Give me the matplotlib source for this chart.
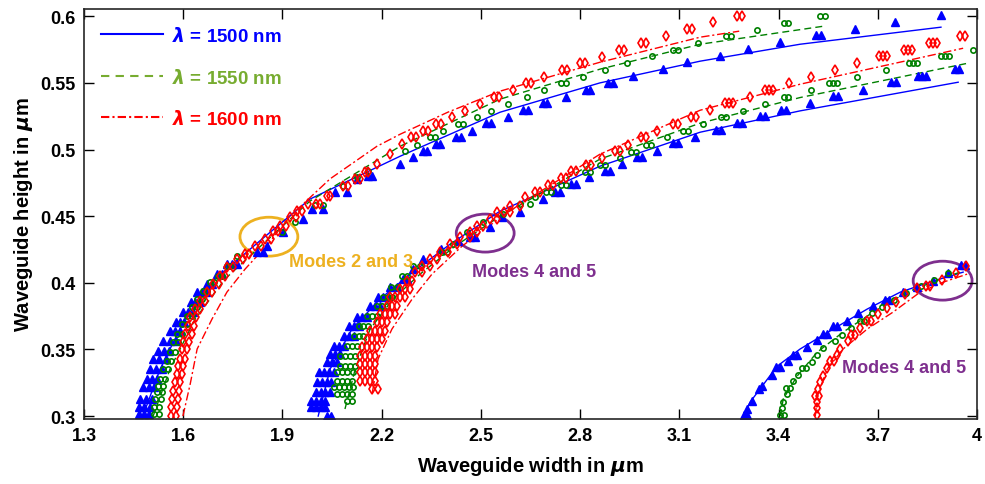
import matplotlib
matplotlib.use("Agg")
import matplotlib.pyplot as plt
from matplotlib.patches import Ellipse
from matplotlib.lines import Line2D

plt.rcParams["font.family"] = ["Liberation Sans", "DejaVu Sans"]
plt.rcParams["font.weight"] = "bold"

# ---- marker data: (height, [widths]) rows, in um ----
blue_a = [
    (0.3015, [1.465, 1.480, 1.497]), (0.3068, [1.465, 1.482, 1.500]),
    (0.3128, [1.470, 1.487, 1.505]), (0.3218, [1.478, 1.495, 1.512]),
    (0.3278, [1.490, 1.505, 1.520]), (0.3353, [1.500, 1.518, 1.535]),
    (0.3428, [1.510, 1.528, 1.547]), (0.3488, [1.525, 1.542, 1.558]),
    (0.3563, [1.540, 1.560, 1.578]), (0.3638, [1.560, 1.575, 1.590]),
    (0.3705, [1.577, 1.590, 1.603]), (0.378, [1.600, 1.615, 1.628]),
    (0.3855, [1.622, 1.636, 1.650]), (0.393, [1.643, 1.657, 1.670]),
    (0.399, [1.672, 1.686]), (0.4065, [1.703, 1.718]),
    (0.414, [1.733, 1.748, 1.762]), (0.423, [1.823, 1.841]),
    (0.4275, [1.853]), (0.438, [1.902]), (0.448, [1.962]),
    (0.4553, [1.989, 2.023]), (0.468, [2.059, 2.095]), (0.4778, [2.126]),
    (0.48, [2.159, 2.171]), (0.489, [2.256]), (0.4943, [2.295]),
    (0.4988, [2.324, 2.338]), (0.504, [2.363, 2.377]), (0.5093, [2.425, 2.440]),
    (0.5138, [2.473]), (0.5198, [2.515, 2.530]), (0.5243, [2.582]),
    (0.5295, [2.627, 2.642]), (0.5348, [2.687, 2.701]), (0.5393, [2.757]),
    (0.5445, [2.817, 2.831]), (0.5498, [2.884, 2.898]), (0.555, [2.960]),
    (0.5603, [3.051]), (0.5655, [3.123]), (0.570, [3.223]), (0.5753, [3.308]),
    (0.5805, [3.405]), (0.5858, [3.513, 3.527]), (0.5903, [3.631]),
    (0.5955, [3.752]), (0.6008, [3.891]),
]
green_a = [
    (0.3015, [1.512, 1.527]), (0.3068, [1.512, 1.527]), (0.3128, [1.516, 1.532]),
    (0.318, [1.520, 1.536]), (0.3225, [1.523, 1.539]), (0.3278, [1.530, 1.545]),
    (0.3353, [1.539, 1.554]), (0.341, [1.551, 1.563]), (0.348, [1.560, 1.575]),
    (0.3555, [1.570, 1.585]), (0.3615, [1.582, 1.597]), (0.369, [1.597, 1.610]),
    (0.375, [1.612, 1.625]), (0.3818, [1.627, 1.642]), (0.3878, [1.642, 1.657]),
    (0.3938, [1.660, 1.672]), (0.4005, [1.681, 1.694]), (0.405, [1.705, 1.718]),
    (0.4125, [1.733, 1.742]), (0.42, [1.763]), (0.438, [1.899]), (0.4455, [1.938]),
    (0.4583, [1.999, 2.023]), (0.4725, [2.083]), (0.4793, [2.126]), (0.4838, [2.159]),
    (0.4988, [2.271]), (0.5033, [2.307]), (0.5093, [2.345, 2.360]), (0.5138, [2.386]),
    (0.519, [2.430, 2.445]), (0.5243, [2.488]), (0.5288, [2.531]), (0.534, [2.582]),
    (0.5393, [2.640]), (0.5445, [2.691]), (0.5498, [2.742, 2.757]), (0.5543, [2.809]),
    (0.5595, [2.876]), (0.5648, [2.942]), (0.570, [3.018]), (0.5745, [3.080, 3.095]),
    (0.5798, [3.157]), (0.585, [3.240, 3.255]), (0.5895, [3.335]),
    (0.5948, [3.415, 3.430]), (0.600, [3.525, 3.540]),
]
red_a = [
    (0.300, [1.563, 1.578]), (0.3068, [1.563, 1.580]), (0.3128, [1.567, 1.583]),
    (0.3188, [1.570, 1.586]), (0.3255, [1.575, 1.590]), (0.3315, [1.580, 1.596]),
    (0.3375, [1.585, 1.600]), (0.3428, [1.590, 1.605]), (0.3503, [1.596, 1.612]),
    (0.3555, [1.600, 1.617]), (0.3615, [1.606, 1.625]), (0.3675, [1.615, 1.632]),
    (0.3743, [1.621, 1.640]), (0.3803, [1.636, 1.652]), (0.3863, [1.651, 1.667]),
    (0.393, [1.672, 1.688]), (0.399, [1.690, 1.708]), (0.405, [1.711, 1.727]),
    (0.4118, [1.733, 1.750]), (0.4178, [1.763, 1.780]), (0.4215, [1.787, 1.800]),
    (0.4275, [1.817, 1.835]), (0.4328, [1.847, 1.865]), (0.4388, [1.872, 1.887]),
    (0.4425, [1.893, 1.910]), (0.4493, [1.923, 1.940]), (0.4538, [1.944, 1.960]),
    (0.4595, [1.977, 2.000, 2.014]), (0.465, [2.035, 2.044]), (0.4725, [2.083, 2.098]),
    (0.4778, [2.119, 2.135]), (0.483, [2.150, 2.159]), (0.489, [2.186]),
    (0.4965, [2.225]), (0.504, [2.262]), (0.5093, [2.288, 2.303]),
    (0.5138, [2.324, 2.339]), (0.519, [2.363, 2.378]), (0.5243, [2.413]),
    (0.5288, [2.452]), (0.534, [2.498]), (0.5393, [2.541, 2.556]), (0.5445, [2.597]),
    (0.5498, [2.635, 2.650]), (0.5543, [2.691]), (0.5595, [2.745, 2.760]),
    (0.5648, [2.799, 2.814]), (0.5693, [2.866]), (0.5745, [2.919, 2.934]),
    (0.5798, [2.983, 2.998]), (0.585, [3.060]), (0.5903, [3.122, 3.137]),
    (0.5955, [3.202]), (0.600, [3.273, 3.288]),
]
blue_b = [
    (0.300, [2.035, 2.048]), (0.3068, [1.985, 2.000, 2.015, 2.030]),
    (0.3113, [1.985, 2.000, 2.015, 2.030]), (0.318, [2.000, 2.015, 2.030, 2.043]),
    (0.3255, [2.005, 2.020, 2.035, 2.048]), (0.333, [2.010, 2.025, 2.040, 2.055]),
    (0.3405, [2.035, 2.050, 2.065]), (0.3465, [2.045, 2.060, 2.075]),
    (0.3525, [2.055, 2.070, 2.085]), (0.360, [2.085, 2.100, 2.115]),
    (0.3675, [2.100, 2.115, 2.130]), (0.3743, [2.126, 2.141, 2.155]),
    (0.3825, [2.165, 2.180, 2.195]), (0.3893, [2.190, 2.205, 2.220]),
    (0.3968, [2.225, 2.245]), (0.4028, [2.265, 2.277]), (0.4103, [2.295]),
    (0.4178, [2.325]), (0.4253, [2.380]), (0.4313, [2.430]), (0.4345, [2.467, 2.482]),
    (0.4418, [2.528]), (0.4493, [2.565]), (0.453, [2.618]), (0.4628, [2.688]),
    (0.468, [2.723, 2.738]), (0.474, [2.772, 2.787]), (0.4793, [2.827]),
    (0.4838, [2.875, 2.890]), (0.489, [2.927]), (0.4943, [2.971, 2.986]),
    (0.4988, [3.033]), (0.5048, [3.080, 3.095]), (0.5093, [3.148]),
    (0.5145, [3.210, 3.225]), (0.5198, [3.273, 3.288]), (0.525, [3.343, 3.358]),
    (0.5295, [3.406, 3.421]), (0.5348, [3.495]), (0.540, [3.564, 3.579]),
    (0.5445, [3.656]), (0.5505, [3.739, 3.754]), (0.555, [3.822, 3.834, 3.846]),
    (0.5603, [3.932, 3.947]),
]
green_b = [
    (0.3113, [2.095, 2.110]), (0.3165, [2.065, 2.080, 2.095, 2.110]),
    (0.3218, [2.055, 2.070, 2.085, 2.100, 2.113]), (0.3263, [2.065, 2.080, 2.095, 2.110]),
    (0.333, [2.065, 2.080, 2.095, 2.112]), (0.3375, [2.075, 2.090, 2.105, 2.118]),
    (0.345, [2.075, 2.090, 2.105, 2.120]), (0.3525, [2.095, 2.110, 2.125]),
    (0.360, [2.115, 2.130, 2.145]), (0.3675, [2.130, 2.145, 2.160]),
    (0.375, [2.157, 2.172, 2.187]), (0.3825, [2.186, 2.201, 2.216]),
    (0.3893, [2.205, 2.220, 2.232]), (0.3968, [2.227, 2.245]), (0.405, [2.262, 2.278]),
    (0.4125, [2.295, 2.315]), (0.423, [2.383, 2.398]), (0.429, [2.416]),
    (0.438, [2.458]), (0.4455, [2.507]), (0.4515, [2.567]), (0.459, [2.618, 2.649]),
    (0.4643, [2.664]), (0.468, [2.696, 2.711]), (0.4733, [2.742, 2.757]),
    (0.483, [2.814, 2.829]), (0.4883, [2.859, 2.874]), (0.4935, [2.921]),
    (0.498, [2.953, 2.968]), (0.5033, [2.999, 3.014]), (0.5093, [3.063]),
    (0.5138, [3.110, 3.125]), (0.519, [3.172]), (0.5243, [3.225, 3.240]),
    (0.5288, [3.293]), (0.534, [3.359]), (0.5393, [3.415, 3.430]), (0.5445, [3.498]),
    (0.5498, [3.553, 3.565, 3.577]), (0.5543, [3.638]), (0.5595, [3.725]),
    (0.5648, [3.795, 3.807, 3.819]), (0.570, [3.892, 3.904, 3.916]), (0.5745, [3.988]),
]
red_b = [
    (0.3203, [2.171, 2.189]), (0.3263, [2.135, 2.150, 2.165, 2.180]),
    (0.333, [2.135, 2.150, 2.165, 2.180]), (0.339, [2.135, 2.150, 2.165, 2.180]),
    (0.345, [2.135, 2.150, 2.165, 2.180]), (0.3518, [2.141, 2.156, 2.171, 2.186]),
    (0.3578, [2.156, 2.171, 2.186, 2.200]), (0.3638, [2.165, 2.180, 2.195, 2.210]),
    (0.3705, [2.186, 2.201, 2.216]), (0.3765, [2.195, 2.210, 2.225, 2.240]),
    (0.3825, [2.216, 2.231, 2.246]), (0.3893, [2.225, 2.240, 2.255, 2.270]),
    (0.3953, [2.256, 2.271, 2.286]), (0.4013, [2.277, 2.292]), (0.408, [2.301, 2.322]),
    (0.4125, [2.322, 2.346]), (0.4178, [2.346, 2.367]), (0.423, [2.377, 2.401]),
    (0.429, [2.407, 2.428]), (0.4343, [2.437, 2.467]), (0.438, [2.467, 2.488]),
    (0.4425, [2.488, 2.507]), (0.4478, [2.528, 2.549]), (0.453, [2.549, 2.570, 2.588]),
    (0.4575, [2.588, 2.618]), (0.4643, [2.634]), (0.468, [2.663, 2.678]),
    (0.4733, [2.702, 2.717]), (0.4785, [2.742, 2.757]), (0.4838, [2.772, 2.787]),
    (0.4883, [2.817, 2.832]), (0.4935, [2.866]), (0.4988, [2.905, 2.920]),
    (0.5033, [2.945]), (0.5093, [2.983, 2.998]), (0.5138, [3.033]),
    (0.519, [3.080, 3.095]), (0.5243, [3.135, 3.150]), (0.5295, [3.193]),
    (0.5348, [3.238, 3.250, 3.262]), (0.5393, [3.314]), (0.5445, [3.359, 3.371, 3.383]),
    (0.5498, [3.432]), (0.5543, [3.498]), (0.5595, [3.571]), (0.5648, [3.638]),
    (0.570, [3.704, 3.716, 3.728]), (0.5745, [3.780, 3.792, 3.804]),
    (0.5798, [3.855, 3.867, 3.879]), (0.585, [3.950, 3.965]),
]
blue_c = [
    (0.3008, [3.296, 3.305]), (0.3053, [3.305]), (0.3113, [3.320]), (0.3203, [3.341]),
    (0.3225, [3.350]), (0.3308, [3.380]), (0.3368, [3.393, 3.405]), (0.3413, [3.429]),
    (0.3458, [3.444, 3.456]), (0.3518, [3.486]), (0.357, [3.517]),
    (0.3615, [3.535, 3.547]), (0.3675, [3.565, 3.577]), (0.3713, [3.607]),
    (0.3773, [3.641]), (0.3825, [3.686]), (0.387, [3.722, 3.734]), (0.393, [3.777]),
    (0.3968, [3.819]), (0.4013, [3.867]), (0.4073, [3.913]), (0.4133, [3.952, 3.964]),
]
green_c = [
    (0.3008, [3.405, 3.417]), (0.306, [3.411]), (0.3105, [3.414]), (0.3165, [3.426]),
    (0.321, [3.423, 3.435]), (0.3263, [3.444]), (0.3308, [3.459]), (0.336, [3.471, 3.483]),
    (0.3405, [3.501]), (0.3458, [3.517]), (0.351, [3.535]), (0.3563, [3.571]),
    (0.3608, [3.592]), (0.366, [3.619]), (0.3713, [3.647, 3.659]), (0.3773, [3.683]),
    (0.3818, [3.713]), (0.387, [3.749]), (0.3923, [3.786]), (0.3975, [3.831]),
    (0.402, [3.870]), (0.4073, [3.913]),
]
red_c = [
    (0.3008, [3.517]), (0.306, [3.517]), (0.3105, [3.517]), (0.315, [3.511, 3.523]),
    (0.3203, [3.520]), (0.3255, [3.526]), (0.330, [3.535]), (0.336, [3.547]),
    (0.3413, [3.556, 3.568]), (0.3458, [3.577]), (0.3503, [3.586]), (0.3563, [3.610]),
    (0.3608, [3.619, 3.631]), (0.366, [3.647]), (0.3713, [3.668, 3.680]),
    (0.3765, [3.701]), (0.381, [3.728]), (0.3855, [3.756]), (0.3915, [3.783]),
    (0.396, [3.819]), (0.3975, [3.846, 3.858]), (0.402, [3.895]), (0.4073, [3.937]),
    (0.4125, [3.967]),
]

# ---- fitted curves ----
fit_blue_a_x = [1.478, 1.530, 1.605, 1.696, 1.838, 1.983, 2.256, 2.558, 2.860, 3.163, 3.465, 3.891]
fit_blue_a_y = [0.300, 0.3353, 0.3728, 0.4028, 0.4328, 0.4628, 0.495, 0.528, 0.550, 0.5663, 0.579, 0.5918]
fit_green_a_x = [1.509, 1.560, 1.636, 1.726, 1.847, 1.983, 2.256, 2.558, 2.860, 3.163, 3.535]
fit_green_a_y = [0.300, 0.3353, 0.3728, 0.4028, 0.4305, 0.4613, 0.5025, 0.5378, 0.5603, 0.579, 0.5925]
fit_red_a_x = [1.599, 1.621, 1.642, 1.687, 1.732, 1.787, 1.856, 1.923, 2.044, 2.186, 2.256, 2.400, 2.558, 2.860, 3.163, 3.281]
fit_red_a_y = [0.300, 0.324, 0.3503, 0.3728, 0.393, 0.4103, 0.429, 0.450, 0.478, 0.5025, 0.5115, 0.528, 0.5438, 0.5655, 0.5843, 0.5888]

fit_blue_b_x = [2.008, 2.044, 2.110, 2.195, 2.286, 2.407, 2.558, 2.640, 2.860, 3.163, 3.465, 3.943]
fit_blue_b_y = [0.300, 0.3353, 0.3653, 0.3878, 0.4065, 0.429, 0.4538, 0.4628, 0.4875, 0.513, 0.529, 0.5505]
fit_green_b_x = [2.089, 2.120, 2.165, 2.234, 2.316, 2.422, 2.558, 2.634, 2.860, 3.163, 3.465, 3.973]
fit_green_b_y = [0.3053, 0.3353, 0.3653, 0.3878, 0.4065, 0.4275, 0.450, 0.4605, 0.4928, 0.5198, 0.539, 0.5648]
fit_red_b_x = [2.171, 2.189, 2.231, 2.292, 2.352, 2.443, 2.573, 2.628, 2.860, 3.163, 3.465, 3.958]
fit_red_b_y = [0.3165, 0.3428, 0.3653, 0.3878, 0.4065, 0.4275, 0.4515, 0.4605, 0.4965, 0.5295, 0.549, 0.576]

fit_blue_c_x = [3.293, 3.314, 3.396, 3.465, 3.565, 3.668, 3.768, 3.867, 3.958]
fit_blue_c_y = [0.300, 0.3105, 0.3375, 0.3503, 0.3653, 0.3803, 0.393, 0.4013, 0.408]
fit_green_c_x = [3.405, 3.414, 3.456, 3.517, 3.595, 3.686, 3.789, 3.889, 3.958]
fit_green_c_y = [0.300, 0.3128, 0.330, 0.348, 0.363, 0.378, 0.393, 0.4028, 0.4088]
fit_red_c_x = [3.511, 3.517, 3.547, 3.595, 3.668, 3.746, 3.828, 3.898, 3.970]
fit_red_c_y = [0.300, 0.315, 0.3353, 0.3503, 0.3653, 0.378, 0.393, 0.4005, 0.4065]

x_ticks = [1.3, 1.6, 1.9, 2.2, 2.5, 2.8, 3.1, 3.4, 3.7, 4.0]
x_tick_labels = ["1.3", "1.6", "1.9", "2.2", "2.5", "2.8", "3.1", "3.4", "3.7", "4"]
y_ticks = [0.3, 0.35, 0.4, 0.45, 0.5, 0.55, 0.6]
y_tick_labels = ["0.3", "0.35", "0.4", "0.45", "0.5", "0.55", "0.6"]
legend_labels = [r"$\lambda$ = 1500 nm", r"$\lambda$ = 1550 nm", r"$\lambda$ = 1600 nm"]

BLUE = "#0000ff"
GREEN = "#008000"
RED = "#ff0000"
LEG_GREEN = "#77ac30"
ORANGE = "#edb120"
PURPLE = "#7e2f8e"


def flatten(rows):
    xs, ys = [], []
    for h, ws in rows:
        for w in ws:
            xs.append(w)
            ys.append(h)
    return xs, ys


fig = plt.figure(figsize=(9.85, 4.85), dpi=100)
ax = fig.add_axes([0.0853, 0.134, 0.9066, 0.845])

# fitted lines
for fx, fy in [(fit_blue_a_x, fit_blue_a_y), (fit_blue_b_x, fit_blue_b_y), (fit_blue_c_x, fit_blue_c_y)]:
    ax.plot(fx, fy, color=BLUE, lw=1.0, ls="-")
for fx, fy in [(fit_green_a_x, fit_green_a_y), (fit_green_b_x, fit_green_b_y), (fit_green_c_x, fit_green_c_y)]:
    ax.plot(fx, fy, color=GREEN, lw=1.0, ls=(0, (5, 3)))
for fx, fy in [(fit_red_a_x, fit_red_a_y), (fit_red_b_x, fit_red_b_y), (fit_red_c_x, fit_red_c_y)]:
    ax.plot(fx, fy, color=RED, lw=1.0, ls=(0, (6, 2, 1.5, 2)))

# markers
for rows in [blue_a, blue_b, blue_c]:
    xs, ys = flatten(rows)
    ax.plot(xs, ys, ls="none", marker="^", ms=5.2, color=BLUE, mec=BLUE)
for rows in [green_a, green_b, green_c]:
    xs, ys = flatten(rows)
    ax.plot(xs, ys, ls="none", marker="o", ms=3.8, mfc="none", mec=GREEN, mew=1.2)
for rows in [red_a, red_b, red_c]:
    xs, ys = flatten(rows)
    ax.plot(xs, ys, ls="none", marker="d", ms=4.8, mfc="none", mec=RED, mew=1.2)

# annotation ellipses
ax.add_patch(Ellipse((1.859, 0.4346), 0.175, 0.0292, fill=False, ec=ORANGE, lw=2))
ax.add_patch(Ellipse((2.513, 0.4373), 0.175, 0.0285, fill=False, ec=PURPLE, lw=2))
ax.add_patch(Ellipse((3.896, 0.4016), 0.178, 0.0292, fill=False, ec=PURPLE, lw=2))
ax.text(1.92, 0.4163, "Modes 2 and 3", color=ORANGE, fontsize=13, fontweight="bold", va="center")
ax.text(2.473, 0.4088, "Modes 4 and 5", color=PURPLE, fontsize=13, fontweight="bold", va="center")
ax.text(3.592, 0.3368, "Modes 4 and 5", color=PURPLE, fontsize=13, fontweight="bold", va="center")

ax.set_xlim(1.3, 4.0)
ax.set_ylim(0.2978, 0.6053)
ax.set_xticks(x_ticks)
ax.set_xticklabels(x_tick_labels)
ax.set_yticks(y_ticks)
ax.set_yticklabels(y_tick_labels)
ax.tick_params(direction="in", length=7, width=1, top=True, right=True, labelsize=13, pad=6)
for s in ax.spines.values():
    s.set_linewidth(1.2)
    s.set_color("#262626")
ax.set_xlabel(r"Waveguide width in $\mu$m", fontsize=14.5, fontweight="bold", labelpad=7)
ax.set_ylabel(r"Waveguide height in $\mu$m", fontsize=14.5, fontweight="bold", labelpad=4)

handles = [
    Line2D([], [], color=BLUE, lw=1.5, ls="-"),
    Line2D([], [], color=LEG_GREEN, lw=1.5, ls=(0, (4, 3))),
    Line2D([], [], color=RED, lw=1.5, ls=(0, (4, 1.5, 1, 1.5))),
]
ax.legend(handles, legend_labels, loc="upper left", bbox_to_anchor=(0.0, 1.0), frameon=False,
          fontsize=13.5, labelcolor=[BLUE, LEG_GREEN, RED], handlelength=3.3,
          handletextpad=0.5, labelspacing=1.2, borderaxespad=0.5)

fig.savefig("out.png", dpi=100)
